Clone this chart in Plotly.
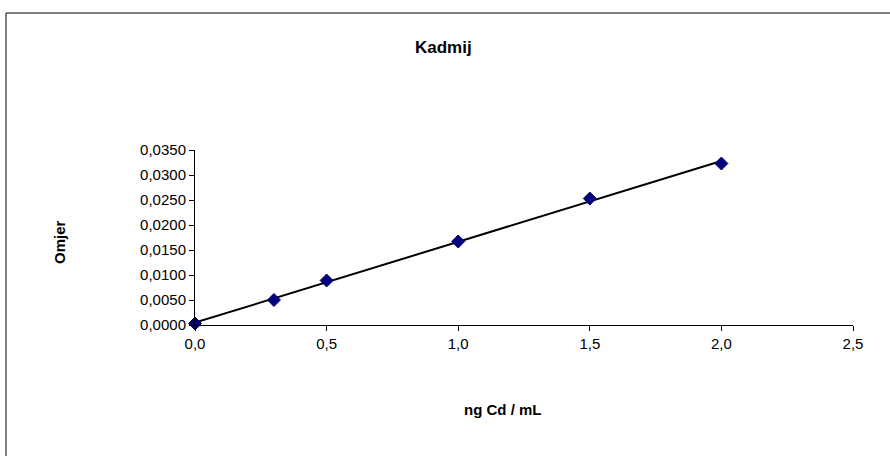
import numpy as np
import plotly.graph_objects as go

conc = [0.0, 0.3, 0.5, 1.0, 1.5, 2.0]
ratio = [0.0003, 0.0050, 0.0089, 0.0167, 0.0253, 0.0323]
x_ticks = [0.0, 0.5, 1.0, 1.5, 2.0, 2.5]
y_ticks = [0.0, 0.005, 0.010, 0.015, 0.020, 0.025, 0.030, 0.035]

slope, intercept = np.polyfit(conc, ratio, 1)
fit_x = [min(conc), max(conc)]
fit_y = [slope * v + intercept for v in fit_x]

fig = go.Figure()
fig.add_trace(go.Scatter(x=fit_x, y=fit_y, mode="lines",
                         line=dict(color="black", width=2), cliponaxis=False,
                         hoverinfo="skip"))
fig.add_trace(go.Scatter(x=conc, y=ratio, mode="markers", cliponaxis=False,
                         marker=dict(symbol="diamond", size=10, color="#000080",
                                     line=dict(color="#000060", width=1))))

W, H = 890, 456
L, R, T, B = 195, 37, 150, 131
pw, ph = W - L - R, H - T - B

def px(xp):
    return (xp - L) / pw

def py(yp):
    return (H - B - yp) / ph

font = "Liberation Sans, Arial, sans-serif"
fig.update_layout(
    width=W, height=H, margin=dict(l=L, r=R, t=T, b=B),
    paper_bgcolor="white", plot_bgcolor="white", showlegend=False,
    separators=",.",
    font=dict(family=font, size=15, color="black"),
    xaxis=dict(range=[0, 2.5], tickvals=x_ticks, tickformat=".1f",
               showgrid=False, zeroline=False, showline=True, linecolor="black",
               linewidth=1, ticks="outside", ticklen=5, tickcolor="black",
               tickfont=dict(size=15, family=font)),
    yaxis=dict(range=[0, 0.035], tickvals=y_ticks, tickformat=".4f",
               showgrid=False, zeroline=False, showline=True, linecolor="black",
               linewidth=1, ticks="outside", ticklen=5, tickcolor="black",
               tickfont=dict(size=15, family=font)),
    shapes=[
        dict(type="line", xref="paper", yref="paper", x0=px(6), x1=px(W + 20),
             y0=py(13), y1=py(13), line=dict(color="black", width=1)),
        dict(type="line", xref="paper", yref="paper", x0=px(6), x1=px(6),
             y0=py(13), y1=py(H + 20), line=dict(color="black", width=1)),
    ],
    annotations=[
        dict(text="<b>Kadmij</b>", xref="paper", yref="paper", x=px(443), y=py(47),
             xanchor="center", yanchor="middle",
             showarrow=False, font=dict(size=17, family=font)),
        dict(text="<b>Omjer</b>", xref="paper", yref="paper", x=px(59), y=py(242),
             xanchor="center", yanchor="middle",
             showarrow=False, textangle=-90, font=dict(size=15, family=font)),
        dict(text="<b>ng Cd / mL</b>", xref="paper", yref="paper", x=px(503), y=py(409),
             xanchor="center", yanchor="middle",
             showarrow=False, font=dict(size=15, family=font)),
    ],
)

fig.write_html("out.html", config={"displayModeBar": False},
               post_script="document.body.style.margin='0';")
